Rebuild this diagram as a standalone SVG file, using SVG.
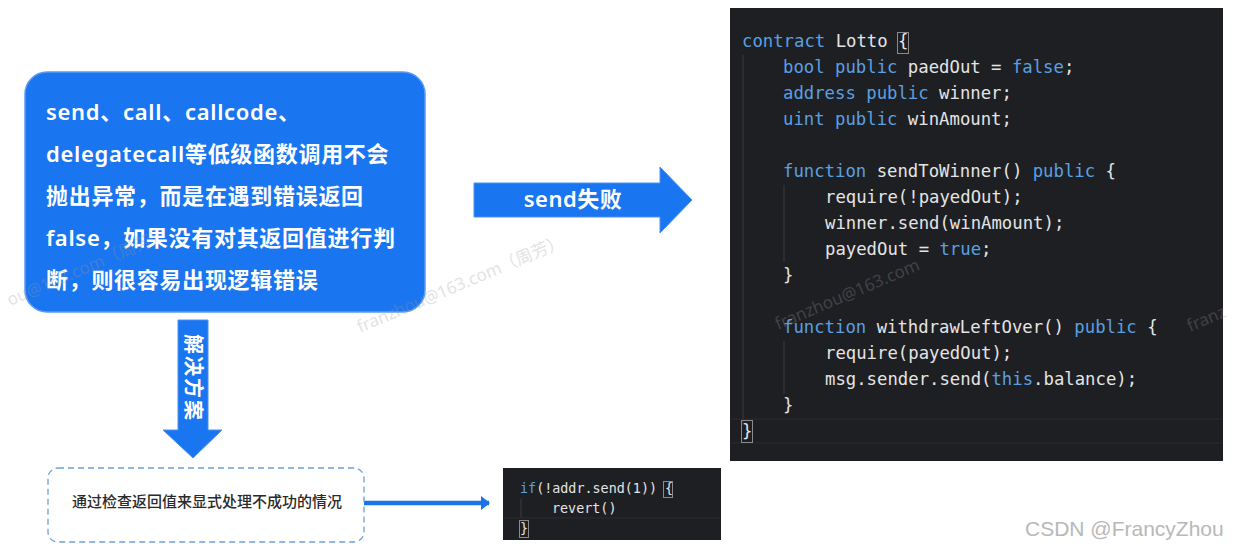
<svg xmlns="http://www.w3.org/2000/svg" width="1235" height="552" viewBox="0 0 1235 552">
<style>
.cn{font-family:"Noto Sans CJK SC","Noto Sans",sans-serif}
.box-t{font-family:"Noto Sans","Noto Sans CJK SC",sans-serif;font-size:22px;font-weight:600;fill:#ffffff;letter-spacing:0.7px}
.code{font-family:"DejaVu Sans Mono","Liberation Mono",monospace;font-size:17.3px;fill:#e4e4e4}
.code2{font-family:"DejaVu Sans Mono","Liberation Mono",monospace;font-size:13.4px;fill:#e4e4e4}
.kw{fill:#5aa0e0}
.guide{stroke:#3c3c40;stroke-width:1}
.brk{fill:none;stroke:#8a8a8a;stroke-width:1}
.wm{font-family:"Noto Sans","Noto Sans CJK SC",sans-serif;font-size:17px;fill:#9a9a9a;opacity:0.28}
</style>
<defs>
<marker id="ah" markerWidth="10" markerHeight="14" refX="8" refY="7" orient="auto" markerUnits="userSpaceOnUse">
<path d="M0,0 L9,7 L0,14 Z" fill="#1a73e8"/>
</marker>
</defs>
<rect width="1235" height="552" fill="#ffffff"/>

<g id="problem-node">
<rect x="25" y="72" width="400" height="240" rx="22" fill="#1a75f0" stroke="#5a9cf5" stroke-width="1.5"/>
<text class="box-t" x="46" y="120">send、call、callcode、</text>
<text class="box-t" x="46" y="162">delegatecall等低级函数调用不会</text>
<text class="box-t" x="46" y="204">抛出异常，而是在遇到错误返回</text>
<text class="box-t" x="46" y="246">false，如果没有对其返回值进行判</text>
<text class="box-t" x="46" y="288">断，则很容易出现逻辑错误</text>
</g>

<g id="connectors">
<g id="arrow-solution">
<path d="M178,320 L208,320 L208,430 L222,430 L193,458 L163,430 L178,430 Z" fill="#1a75f0" stroke="#4a92f2" stroke-width="1"/>
<text class="cn" x="0" y="0" transform="translate(186,334) rotate(90)" font-size="20" font-weight="700" fill="#ffffff" letter-spacing="2">解决方案</text>
</g>
<g id="arrow-send-fail">
<path d="M474,183 L660,183 L660,167 L692,200 L660,233 L660,217 L474,217 Z" fill="#1a75f0" stroke="#4a92f2" stroke-width="1"/>
<text x="573" y="207" text-anchor="middle" font-family="Noto Sans,Noto Sans CJK SC,sans-serif" font-size="22" font-weight="600" fill="#ffffff" letter-spacing="0.5">send失败</text>
</g>
<line x1="364" y1="503" x2="489" y2="503" stroke="#1a73e8" stroke-width="4.5" marker-end="url(#ah)"/>
</g>

<g id="code-lotto">
<rect x="730" y="8" width="493" height="453" fill="#1e1f23"/>
<line class="guide" x1="743" y1="55" x2="743" y2="425"/>
<line class="guide" x1="784" y1="185" x2="784" y2="262"/>
<line class="guide" x1="784" y1="341" x2="784" y2="394"/>
<line x1="731" y1="419" x2="1222" y2="419" stroke="#2c2d31" stroke-width="1"/>
<line x1="731" y1="443" x2="1222" y2="443" stroke="#2c2d31" stroke-width="1"/>
<rect class="brk" x="897.5" y="32.5" width="11" height="21"/>
<rect class="brk" x="741.5" y="420.5" width="11" height="22"/>
<g xml:space="preserve">
<text class="code" x="742" y="47"><tspan class="kw">contract</tspan> Lotto {</text>
<text class="code" x="783" y="73"><tspan class="kw">bool public</tspan> paedOut = <tspan class="kw">false</tspan>;</text>
<text class="code" x="783" y="99"><tspan class="kw">address public</tspan> winner;</text>
<text class="code" x="783" y="125"><tspan class="kw">uint public</tspan> winAmount;</text>
<text class="code" x="783" y="177"><tspan class="kw">function</tspan> sendToWinner() <tspan class="kw">public</tspan> {</text>
<text class="code" x="825" y="203">require(!payedOut);</text>
<text class="code" x="825" y="229">winner.send(winAmount);</text>
<text class="code" x="825" y="255">payedOut = <tspan class="kw">true</tspan>;</text>
<text class="code" x="783" y="281">}</text>
<text class="code" x="783" y="333"><tspan class="kw">function</tspan> withdrawLeftOver() <tspan class="kw">public</tspan> {</text>
<text class="code" x="825" y="359">require(payedOut);</text>
<text class="code" x="825" y="385">msg.sender.send(<tspan class="kw">this</tspan>.balance);</text>
<text class="code" x="783" y="411">}</text>
<text class="code" x="742" y="437">}</text>
</g>
</g>

<g id="solution-node">
<rect x="48" y="468" width="316" height="74" rx="10" fill="#ffffff" stroke="#6d9fd6" stroke-width="1.3" stroke-dasharray="6 4"/>
<text class="cn" x="207" y="507" text-anchor="middle" font-size="15" font-weight="500" fill="#2a2a2a">通过检查返回值来显式处理不成功的情况</text>
</g>

<g id="code-revert">
<rect x="503" y="468" width="218" height="72" fill="#1e1f23"/>
<line class="guide" x1="521" y1="499" x2="521" y2="518"/>
<line x1="504" y1="518" x2="720" y2="518" stroke="#2c2d31" stroke-width="1"/>
<rect class="brk" x="663.5" y="481.5" width="9" height="16"/>
<rect class="brk" x="519.5" y="520.5" width="9" height="17"/>
<g xml:space="preserve">
<text class="code2" x="520" y="493"><tspan class="kw">if</tspan>(!addr.send(1)) {</text>
<text class="code2" x="552" y="513">revert()</text>
<text class="code2" x="520" y="533">}</text>
</g>
</g>

<g id="watermarks">
<text class="wm" transform="translate(360,333) rotate(-23)">franzhou@163.com（周芳）</text>
<text class="wm" transform="translate(10,306) rotate(-23)">ou@163.com（周芳）</text>
<text class="wm" transform="translate(778,330) rotate(-23)">franzhou@163.com</text>
<text class="wm" transform="translate(1190,332) rotate(-23)">franz</text>
</g>

<text x="1025" y="536" font-family="Liberation Sans,Arial,sans-serif" font-size="21" fill="#b8b8b8">CSDN @FrancyZhou</text>
</svg>
